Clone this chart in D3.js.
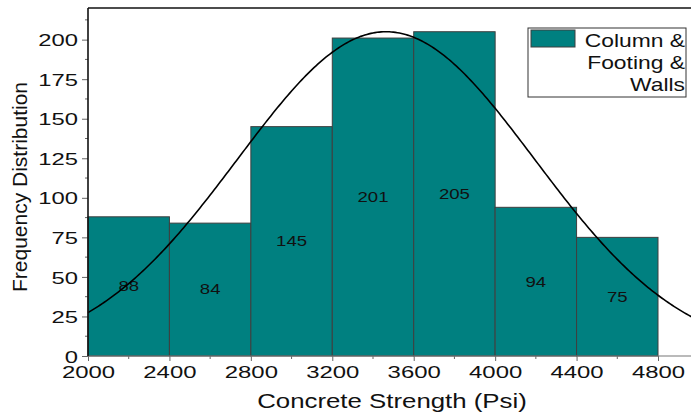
<!DOCTYPE html>
<html>
<head>
<meta charset="utf-8">
<script src="https://cdn.jsdelivr.net/npm/d3@7/dist/d3.min.js"></script>
<style>
  html, body { margin: 0; padding: 0; background: #fff; }
  svg { display: block; font-family: "Liberation Sans", Arial, sans-serif; }
</style>
</head>
<body>
<svg id="chart" width="691" height="417"></svg>
<script>
// ---- data ----
const binEdges = [2000, 2400, 2800, 3200, 3600, 4000, 4400, 4800];
const frequencies = [88, 84, 145, 201, 205, 94, 75];
const xTicks = [2000, 2400, 2800, 3200, 3600, 4000, 4400, 4800];
const yTicks = [0, 25, 50, 75, 100, 125, 150, 175, 200];
// fitted normal curve parameters
const curveMean = 3464;
const curveSd = 730;
const curvePeak = 205;
const seriesName = ["Column &", "Footing &", "Walls"];

// ---- layout ----
const svg = d3.select("#chart");
const plotLeft = 88, plotTop = 8, plotBottom = 356;
const x = d3.scaleLinear().domain([2000, 5000]).range([plotLeft, plotLeft + 570 * 3000 / 2800]);
const y = d3.scaleLinear().domain([0, 220]).range([plotBottom, plotTop]);

// bars
const bars = frequencies.map((v, i) => ({ x0: binEdges[i], x1: binEdges[i + 1], v }));
svg.append("g").selectAll("rect").data(bars).join("rect")
  .attr("x", d => x(d.x0))
  .attr("y", d => y(d.v))
  .attr("width", d => x(d.x1) - x(d.x0))
  .attr("height", d => y(0) - y(d.v))
  .attr("fill", "#008080")
  .attr("stroke", "#3f3f3f")
  .attr("stroke-width", 1);

// bar labels
svg.append("g").selectAll("text").data(bars).join("text")
  .attr("transform", d => `translate(${x((d.x0 + d.x1) / 2)},${y(d.v / 2)}) scale(1.24,1)`)
  .attr("text-anchor", "middle")
  .attr("dominant-baseline", "central")
  .attr("font-size", 15)
  .attr("fill", "#111")
  .text(d => d.v);

// normal curve
const xs = d3.range(2000, 5000.1, 10);
const line = d3.line()
  .x(d => x(d))
  .y(d => y(curvePeak * Math.exp(-((d - curveMean) ** 2) / (2 * curveSd * curveSd))));
svg.append("path").datum(xs)
  .attr("d", line)
  .attr("fill", "none")
  .attr("stroke", "#000")
  .attr("stroke-width", 1.6);

// y axis
const yAxis = svg.append("g").attr("transform", `translate(${plotLeft},0)`)
  .call(d3.axisLeft(y).tickValues(yTicks).tickSize(6).tickPadding(0).tickFormat(d3.format("d")));
yAxis.select(".domain").remove();
yAxis.selectAll("line").attr("stroke", "#666");
yAxis.selectAll("text")
  .attr("x", null).attr("dy", null)
  .attr("transform", "translate(-10,0) scale(1.4,1)")
  .attr("dominant-baseline", "central")
  .attr("font-size", 17)
  .attr("font-family", "Liberation Sans, Arial, sans-serif")
  .attr("fill", "#111");
// y minor ticks
svg.append("g").selectAll("line").data(d3.range(12.5, 220, 25)).join("line")
  .attr("x1", plotLeft - 3).attr("x2", plotLeft)
  .attr("y1", d => y(d)).attr("y2", d => y(d))
  .attr("stroke", "#666");

// x axis
const xAxis = svg.append("g").attr("transform", `translate(0,${plotBottom})`)
  .call(d3.axisBottom(x).tickValues(xTicks).tickSize(5).tickPadding(0).tickFormat(d3.format("d")));
xAxis.select(".domain").remove();
xAxis.selectAll("line").attr("stroke", "#666");
xAxis.selectAll("text")
  .attr("y", null).attr("dy", null)
  .attr("transform", "translate(0,22) scale(1.45,1)")
  .attr("font-size", 16.5)
  .attr("font-family", "Liberation Sans, Arial, sans-serif")
  .attr("fill", "#111");
svg.append("g").selectAll("line").data(d3.range(2200, 4900, 400)).join("line")
  .attr("x1", d => x(d)).attr("x2", d => x(d))
  .attr("y1", plotBottom).attr("y2", plotBottom + 3)
  .attr("stroke", "#666");

// frame lines
svg.append("line").attr("x1", plotLeft).attr("x2", 691).attr("y1", plotBottom).attr("y2", plotBottom)
  .attr("stroke", "#777").attr("stroke-width", 1.2);
svg.append("line").attr("x1", plotLeft).attr("x2", 691).attr("y1", plotTop).attr("y2", plotTop)
  .attr("stroke", "#111").attr("stroke-width", 1.6);
svg.append("line").attr("x1", plotLeft).attr("x2", plotLeft).attr("y1", plotTop).attr("y2", plotBottom)
  .attr("stroke", "#111").attr("stroke-width", 1.6);

// axis titles
svg.append("text")
  .attr("transform", "translate(392,408) scale(1.23,1)")
  .attr("text-anchor", "middle")
  .attr("font-size", 21)
  .attr("fill", "#111")
  .text("Concrete Strength (Psi)");
svg.append("text")
  .attr("transform", "translate(27,187) rotate(-90) scale(1.05,1)")
  .attr("text-anchor", "middle")
  .attr("font-size", 20)
  .attr("fill", "#111")
  .text("Frequency Distribution");

// legend
const lg = svg.append("g");
lg.append("rect").attr("x", 528).attr("y", 28).attr("width", 158).attr("height", 69)
  .attr("fill", "#fff").attr("stroke", "#333").attr("stroke-width", 1);
lg.append("rect").attr("x", 531).attr("y", 30).attr("width", 44).attr("height", 17)
  .attr("fill", "#008080").attr("stroke", "#3f3f3f").attr("stroke-width", 1);
lg.selectAll("text.l").data(seriesName).join("text")
  .attr("class", "l")
  .attr("transform", (d, i) => `translate(685,${47 + i * 22}) scale(1.27,1)`)
  .attr("text-anchor", "end")
  .attr("font-size", 18)
  .attr("fill", "#111")
  .text(d => d);
</script>
</body>
</html>
